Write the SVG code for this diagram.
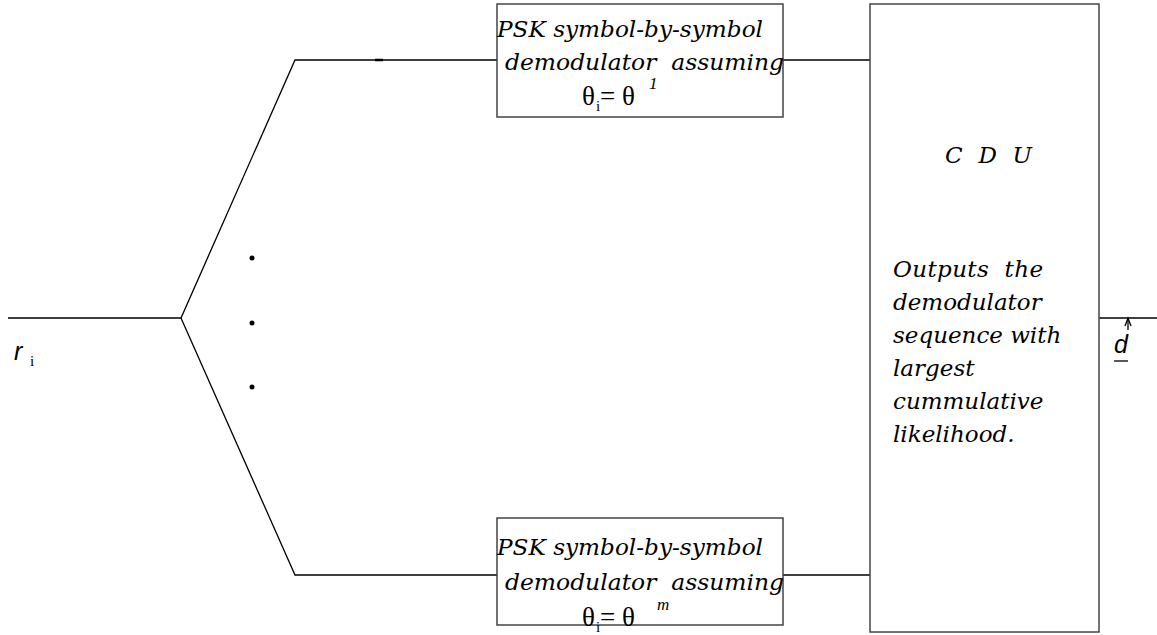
<svg xmlns="http://www.w3.org/2000/svg" width="1157" height="635" viewBox="0 0 1157 635">
<style>
.ln{stroke:#000;stroke-width:1.3;fill:none}
.box{stroke:#444;stroke-width:1.5;fill:#fff}
.t{font-family:"DejaVu Serif","Liberation Serif",serif;font-style:italic;font-size:22px;fill:#000;white-space:pre}
.c{font-family:"DejaVu Serif","Liberation Serif",serif;font-style:italic;font-size:23px;fill:#000;white-space:pre}
.g{font-family:"Liberation Serif",serif;font-size:27px;fill:#000;white-space:pre}
.sub{font-family:"Liberation Serif",serif;font-size:15px;fill:#000}
.sup{font-family:"Liberation Serif",serif;font-style:italic;font-size:17px;fill:#000}
.s{font-family:"Liberation Sans",sans-serif;font-style:italic;font-size:25px;fill:#000}
</style>
<g id="connectors">
<polyline class="ln" points="8,318 181,318 295,60 497,60"/>
<polyline class="ln" points="181,318 295,575 497,575"/>
<line x1="375" y1="60" x2="383" y2="60" stroke="#000" stroke-width="2.5"/>
<line class="ln" x1="783" y1="60" x2="870" y2="60"/>
<line class="ln" x1="783" y1="575" x2="870" y2="575"/>
<line class="ln" x1="1099" y1="318" x2="1157" y2="318"/>
</g>
<g id="input">
<text class="s" x="14" y="360">r</text>
<text class="sub" x="30" y="366">i</text>
</g>
<g id="dots">
<circle cx="252" cy="258" r="2.5"/>
<circle cx="252" cy="323" r="2.5"/>
<circle cx="252" cy="387" r="2.5"/>
</g>
<g id="demod1">
<rect class="box" x="497" y="4" width="286" height="113"/>
<text class="t" x="497" y="37" textLength="266" lengthAdjust="spacingAndGlyphs">PSK symbol-by-symbol</text>
<text class="t" x="505" y="70" textLength="279" lengthAdjust="spacingAndGlyphs">demodulator  assuming</text>
<text class="g" x="582" y="105">θ</text>
<text class="sub" x="596" y="111">i</text>
<text class="g" x="600" y="105">= θ</text>
<text class="sup" x="649" y="89">1</text>
</g>
<g id="demodm">
<rect class="box" x="497" y="518" width="286" height="107"/>
<text class="t" x="497" y="555" textLength="266" lengthAdjust="spacingAndGlyphs">PSK symbol-by-symbol</text>
<text class="t" x="505" y="590" textLength="279" lengthAdjust="spacingAndGlyphs">demodulator  assuming</text>
<text class="g" x="582" y="626">θ</text>
<text class="sub" x="596" y="632">i</text>
<text class="g" x="600" y="626">= θ</text>
<text class="sup" x="657" y="610">m</text>
</g>
<g id="cdu">
<rect class="box" x="870" y="4" width="229" height="628"/>
<text class="c" x="945" y="163" textLength="87" lengthAdjust="spacing">C  D  U</text>
<text class="c" x="893" y="277" textLength="150" lengthAdjust="spacing">Outputs  the</text>
<text class="c" x="893" y="310">demodulator</text>
<text class="c" x="893" y="343">sequence with</text>
<text class="c" x="893" y="376">largest</text>
<text class="c" x="893" y="409">cummulative</text>
<text class="c" x="893" y="442">likelihood.</text>
</g>
<g id="output">
<line class="ln" x1="1128" y1="319" x2="1128" y2="330"/>
<polyline class="ln" points="1125,326 1128,318 1131,326"/>
<text class="s" x="1114" y="353">d</text>
<line class="ln" x1="1114" y1="361" x2="1128" y2="361"/>
</g>
</svg>
